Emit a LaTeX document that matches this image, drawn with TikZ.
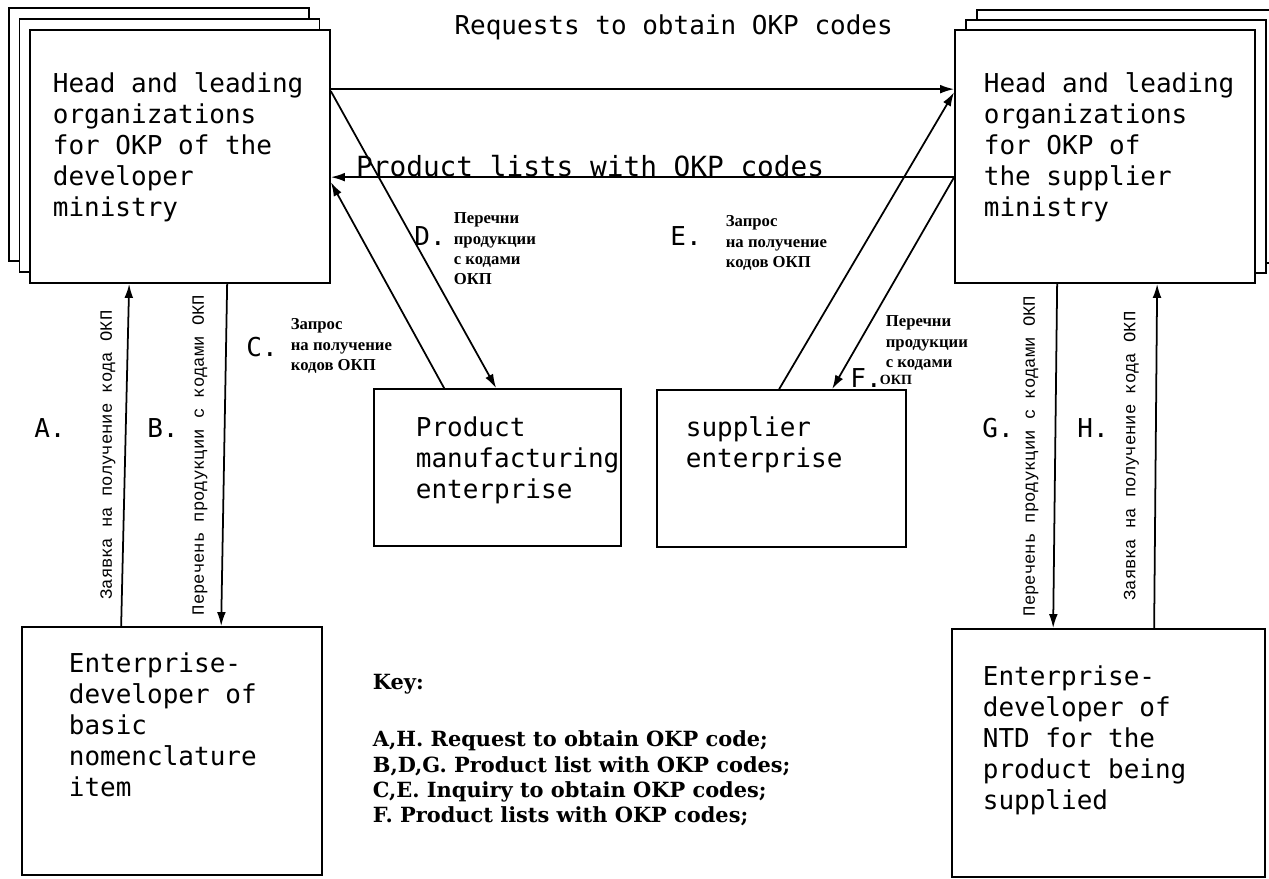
\documentclass[tikz,border=0pt]{standalone}
\usepackage{fontspec}
\usepackage{tikz}
\usetikzlibrary{arrows.meta,shadows}
\setmainfont{DejaVu Sans Mono}
\newfontfamily\rusfont{Liberation Serif}
\newfontfamily\vertfont{Liberation Mono}
\newfontfamily\keyfont{DejaVu Serif}
\newcommand{\Okp}{ОКП}
\newcommand{\Tw}{\fontsize{14.8}{17.6}\selectfont}
\tikzset{
  sheet/.style={draw, fill=white, line width=1pt},
  txt/.style={anchor=north west, align=left, inner sep=0pt, font=\Tw},
  lttr/.style={inner sep=0pt, font=\Tw},
  rus/.style={anchor=north west, align=left, inner sep=0pt, font=\rusfont\bfseries\fontsize{9.5}{11.6}\selectfont},
  vlbl/.style={midway, rotate=90, anchor=south, inner sep=7pt, font=\vertfont\fontsize{9.8}{12}\selectfont},
  keytxt/.style={anchor=north west, align=left, inner sep=0pt, font=\keyfont\bfseries\fontsize{11.9}{14.4}\selectfont}
}

\begin{document}
\begin{tikzpicture}[x=0.02cm, y=-0.02cm, line width=1pt, >={Latex[length=8pt,width=5pt]}]
  \useasboundingbox (0, 0) rectangle (1269, 879);
  \node [sheet, minimum width=6cm, minimum height=5.06cm, double copy shadow={shadow xshift=-0.21cm, shadow yshift=0.22cm, draw=black, fill=white}] (HD) at (180, 156.5) {};
  \node [sheet, minimum width=6cm, minimum height=5.06cm, double copy shadow={shadow xshift=0.22cm, shadow yshift=0.2cm, draw=black, fill=white}] (HS) at (1105, 156.5) {};
  \node [sheet, minimum width=4.94cm, minimum height=3.14cm] (PM) at (497.5, 467.5) {};
  \node [sheet, minimum width=4.98cm, minimum height=3.14cm] (SE) at (781.5, 468.5) {};
  \node [sheet, minimum width=6cm, minimum height=4.96cm] (ED) at (172, 751) {};
  \node [sheet, minimum width=6.26cm, minimum height=4.96cm] (EN) at (1108.5, 753) {};

  \node [txt] (HDt) at (52, 72) {Head and leading\\organizations\\for OKP of the\\developer\\ministry};
  \node [txt] (HSt) at (983, 72) {Head and leading\\organizations\\for OKP of\\the supplier\\ministry};
  \node [txt] (PMt) at (415, 416) {Product\\manufacturing\\enterprise};
  \node [txt] (SEt) at (685, 416) {supplier\\enterprise};
  \node [txt] (EDt) at (68, 652) {Enterprise-\\developer of\\basic\\nomenclature\\item};
  \node [txt] (ENt) at (982, 665) {Enterprise-\\developer of\\NTD for the\\product being\\supplied};

  \draw [->] ([shift={(0, 60)}]HD.north east) -- node [pos=0.55, yshift=1.24cm, lttr] {Requests to obtain OKP codes} ([shift={(0, 60)}]HS.north west);
  \draw [->] ([shift={(0, 148)}]HS.north west) -- node [pos=0.584, yshift=0.22cm, lttr, font=\fontsize{15.8}{18}\selectfont] {Product lists with OKP codes} ([shift={(0, 148)}]HD.north east);
  \draw [->] ([shift={(0, 62)}]HD.north east) -- ([shift={(123, 0)}]PM.north west);
  \draw [->] ([shift={(71, 0)}]PM.north west) -- ([shift={(0, 153)}]HD.north east);
  \draw [->] ([shift={(123, 0)}]SE.north west) -- ([shift={(0, 63)}]HS.north west);
  \draw [->] ([shift={(0, 148)}]HS.north west) -- ([shift={(176, 0)}]SE.north west);
  \draw [->] ([shift={(100, 0)}]ED.north west) -- node [vlbl, inner sep=5pt] {Заявка на получение кода \Okp} ([shift={(100, 0)}]HD.south west);
  \draw [->] ([shift={(198, 0)}]HD.south west) -- node [vlbl, inner sep=9pt] {Перечень продукции с кодами \Okp} ([shift={(200, 0)}]ED.north west);
  \draw [->] ([shift={(103, 0)}]HS.south west) -- node [vlbl, inner sep=9pt] {Перечень продукции с кодами \Okp} ([shift={(102, 0)}]EN.north west);
  \draw [->] ([shift={(203, 0)}]EN.north west) -- node [vlbl, inner sep=9pt] {Заявка на получение кода \Okp} ([shift={(203, 0)}]HS.south west);

  \node [lttr] (lA) at (50, 428) {A.};
  \node [lttr] (lB) at (163, 428) {B.};
  \node [lttr] (lC) at (262, 347) {C.};
  \node [lttr] (lD) at (430, 236) {D.};
  \node [lttr] (lE) at (686, 236) {E.};
  \node [lttr] (lF) at (866, 378) {F.};
  \node [lttr] (lG) at (998, 428) {G.};
  \node [lttr] (lH) at (1093, 428) {H.};

  \node [rus] (Cl) at (290, 318) {Запрос\\на получение\\кодов \Okp};
  \node [rus] (Dl) at (453, 212) {Перечни\\продукции\\с кодами\\\Okp};
  \node [rus] (El) at (725, 215) {Запрос\\на получение\\кодов \Okp};
  \node [rus] (Fl) at (885, 315) {Перечни\\продукции\\с кодами};
  \node [rus, font=\rusfont\bfseries\fontsize{8}{10}\selectfont] (Fo) at (879, 374) {\Okp};

  \node [keytxt] (KY) at (372, 673) {Key:\\[18.4pt]A,H. Request to obtain OKP code;\\B,D,G. Product list with OKP codes;\\C,E. Inquiry to obtain OKP codes;\\F. Product lists with OKP codes;};
\end{tikzpicture}
\end{document}
